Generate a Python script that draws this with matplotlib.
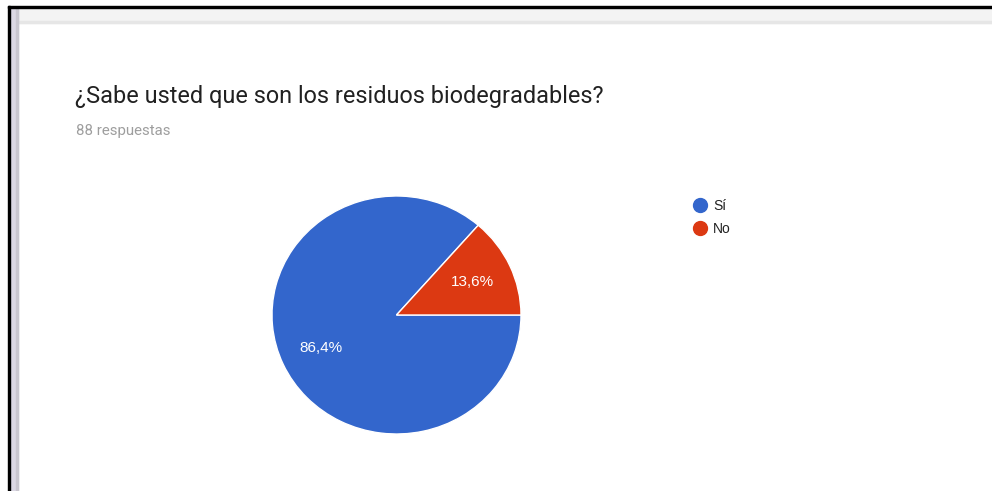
import matplotlib.pyplot as plt
from matplotlib.patches import Rectangle
from matplotlib.lines import Line2D

plt.rcParams['font.family'] = ['Roboto', 'DejaVu Sans']

# Survey answers
labels = ['Sí', 'No']
shares = [86.4, 13.6]
colors = ['#3366cc', '#dc3912']
title = '¿Sabe usted que son los residuos biodegradables?'
subtitle = '88 respuestas'

W, H = 992, 491
fig = plt.figure(figsize=(W / 100, H / 100), dpi=100)
fig.patch.set_facecolor('white')

def px(x, y, w, h, color):
    # rectangle in pixel units measured from the top-left corner
    fig.patches.append(Rectangle((x / W, 1 - (y + h) / H), w / W, h / H,
                                 transform=fig.transFigure, color=color, zorder=0))

# window frame
px(18, 8, W - 18, 15, '#f3f3f3')
px(18, 21, W - 18, 2, '#e6e6e6')
px(10, 8, 8, H - 8, '#dcd8e4')
px(16, 8, 2, H - 8, '#c9c6cf')
px(8, 6, W - 8, 2, '#000000')
px(8, 6, 2, H - 6, '#000000')

fig.text(75 / W, 1 - 97 / H, title, fontsize=16.9, color='#212121', va='center', ha='left')
fig.text(76 / W, 1 - 131 / H, subtitle, fontsize=10.8, color='#9e9e9e', va='center', ha='left')

# pie centred at (396.5, 315), slightly wider than tall
rx, ry = 124.5, 119
ax = fig.add_axes([(396.5 - rx) / W, 1 - (315 + ry) / H, 2 * rx / W, 2 * ry / H])
wedges, texts, autotexts = ax.pie(
    shares, colors=colors, startangle=0, counterclock=False,
    autopct=lambda p: f'{p:.1f}%'.replace('.', ','), pctdistance=0.67,
    wedgeprops=dict(edgecolor='white', linewidth=1),
    textprops=dict(color='white', fontsize=11, family='Liberation Sans'))
ax.set_aspect('auto')
ax.set_xlim(-1, 1)
ax.set_ylim(-1, 1)

# legend
handles = [Line2D([], [], marker='o', linestyle='', markersize=10,
                  markerfacecolor=c, markeredgecolor=c) for c in colors]
fig.legend(handles, labels, loc='upper left', bbox_to_anchor=(693 / W, 1 - 199 / H),
           frameon=False, handletextpad=0.45, handlelength=1.0, labelspacing=0.62,
           prop=dict(family='Liberation Sans', size=10), labelcolor='#222222',
           borderpad=0, borderaxespad=0)

fig.savefig('out.png', dpi=100)
